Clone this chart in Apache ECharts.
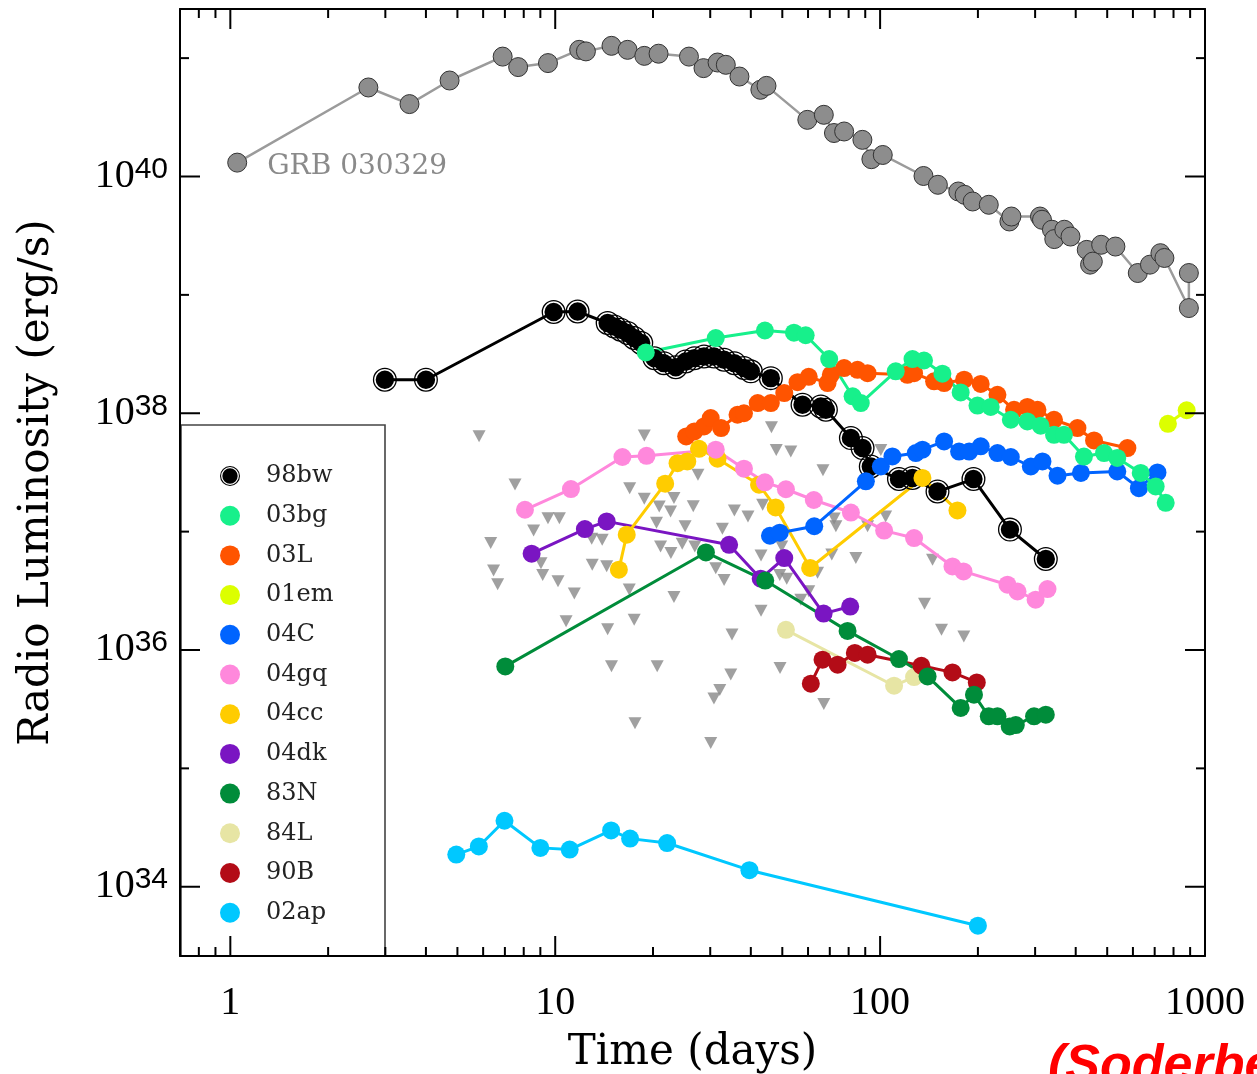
<!DOCTYPE html>
<html>
<head>
<meta charset="utf-8">
<script src="https://cdn.jsdelivr.net/npm/echarts@6/dist/echarts.min.js"></script>
<style>
html,body{margin:0;padding:0;background:#fff;}
#chart{width:1257px;height:1074px;}
</style>
</head>
<body>
<div id="chart"></div>
<script>
// ---------------- data (time in days, radio luminosity in erg/s) ----------------
const grb030329 = [[1.05,1.31e40],[2.66,5.65e40],[3.56,4.09e40],[4.73,6.47e40],[6.89,1.03e41],[7.69,8.4e40],[9.5,9.08e40],[11.85,1.175e41],[12.43,1.14e41],[14.9,1.27e41],[16.7,1.175e41],[18.8,1.045e41],[20.8,1.09e41],[25.8,1.03e41],[28.6,8.23e40],[31.6,9.18e40],[33.5,8.78e40],[36.9,6.99e40],[42.8,5.4e40],[44.7,5.83e40],[59.7,3.01e40],[67.1,3.32e40],[72.1,2.33e40],[77.5,2.4e40],[88.2,2.04e40],[94.0,1.4e40],[101.9,1.52e40],[136,1.01e40],[150.6,8.51e39],[174,7.47e39],[182,7.0e39],[192.7,6.15e39],[216,5.77e39],[250,4.17e39],[253.6,4.59e39],[310.5,4.59e39],[315,4.31e39],[338,3.55e39],[343.6,2.96e39],[369,3.55e39],[385.5,3.11e39],[432.5,2.4e39],[442.8,1.8e39],[451.6,1.91e39],[479,2.65e39],[530,2.56e39],[621,1.53e39],[677,1.8e39],[729,2.25e39],[750,2.05e39],[892,7.74e38],[892,1.53e39]];
const sn98bw = [[2.99,1.92e38],[4.0,1.92e38],[9.89,7.16e38],[11.72,7.24e38],[14.5,5.78e38],[15.2,5.41e38],[15.9,5.08e38],[16.7,4.76e38],[17.5,4.32e38],[18.4,3.92e38],[20.2,2.92e38],[21.6,2.65e38],[23.5,2.45e38],[25.2,2.74e38],[26.8,2.92e38],[28.7,3.02e38],[30.8,3.02e38],[33.1,2.83e38],[35.6,2.65e38],[38.1,2.41e38],[40.0,2.26e38],[46.1,1.98e38],[57.7,1.18e38],[65.7,1.14e38],[68.1,1.07e38],[81.3,6.17e37],[88.3,5.08e37],[93.6,3.55e37],[114.3,2.78e37],[125.8,2.84e37],[150.2,2.18e37],[193.8,2.78e37],[251,1.04e37],[323.6,5.87e36]];
const sn03bg = [[19.0,3.26e38],[31.2,4.32e38],[44.2,5.0e38],[54.3,4.79e38],[59.0,4.56e38],[69.7,2.87e38],[82.3,1.39e38],[87.2,1.22e38],[111.7,2.26e38],[125.8,2.87e38],[136.5,2.79e38],[155.5,2.16e38],[177,1.5e38],[199.4,1.16e38],[219,1.13e38],[252.5,8.81e37],[284,8.53e37],[312,7.84e37],[343,6.58e37],[368,6.58e37],[424,4.31e37],[489,4.61e37],[537,4.19e37],[634,3.13e37],[705,2.41e37],[757,1.75e37]];
const sn03L = [[25.3,6.37e37],[26.8,7.02e37],[28.7,7.74e37],[30.1,9.11e37],[32.4,7.5e37],[36.4,9.71e37],[38.1,1.0e38],[42.0,1.22e38],[46.1,1.22e38],[50.7,1.48e38],[55.7,1.83e38],[60.3,2.03e38],[68.9,1.8e38],[70.5,2.11e38],[77.5,2.41e38],[85.2,2.33e38],[91.5,2.18e38],[121.4,2.11e38],[127.2,2.18e38],[146.6,1.86e38],[157.4,1.8e38],[181.4,1.92e38],[204,1.77e38],[229.7,1.43e38],[258.4,1.07e38],[284,1.13e38],[305,1.07e38],[343,8.81e37],[405,7.5e37],[455.5,5.89e37],[577,5.08e37]];
const sn01em = [[769,8.15e37],[878,1.06e38]];
const sn04C = [[45.8,9.23e36],[49.1,9.79e36],[62.7,1.11e37],[90.4,2.66e37],[100.5,3.55e37],[109.1,4.32e37],[128.8,4.61e37],[135,4.92e37],[157.4,5.78e37],[175,4.75e37],[188,4.75e37],[204,5.25e37],[229.7,4.61e37],[252.5,4.27e37],[291,3.55e37],[316,3.92e37],[351.6,2.97e37],[415,3.13e37],[537,3.22e37],[626,2.33e37],[714,3.16e37]];
const sn04gq = [[8.07,1.53e37],[11.18,2.29e37],[16.1,4.27e37],[19.1,4.37e37],[31.2,4.92e37],[38.1,3.4e37],[44.2,2.61e37],[51.3,2.28e37],[62.5,1.85e37],[81.3,1.45e37],[102.9,1.02e37],[127.2,8.83e36],[167,5.08e36],[180.6,4.61e36],[246.6,3.56e36],[264.8,3.12e36],[301,2.66e36],[327.5,3.27e36]];
const sn04cc = [[15.7,4.77e36],[16.6,9.42e36],[21.8,2.54e37],[23.8,3.79e37],[25.5,3.92e37],[27.7,5.01e37],[31.6,4.13e37],[42.4,2.49e37],[47.7,1.6e37],[60.9,4.93e36],[135,2.84e37],[173,1.51e37]];
const sn04dk = [[8.46,6.51e36],[12.34,1.05e37],[14.4,1.22e37],[34.3,7.74e36],[42.9,4.0e36],[50.7,5.98e36],[67.0,2.03e36],[80.9,2.33e36]];
const sn83N = [[7.02,7.27e35],[29.1,6.67e36],[44.3,3.86e36],[79.4,1.45e36],[114.3,8.39e35],[140,5.98e35],[177,3.24e35],[194.5,4.19e35],[216,2.75e35],[229.7,2.75e35],[250.6,2.26e35],[261.6,2.32e35],[297.7,2.75e35],[323.6,2.84e35]];
const sn84L = [[51.3,1.48e36],[110.4,4.99e35],[127.2,5.91e35]];
const sn90B = [[61.2,5.19e35],[66.5,8.28e35],[74.0,7.51e35],[83.6,9.44e35],[91.5,9.13e35],[134,7.36e35],[167,6.47e35],[198.4,5.32e35]];
const sn02ap = [[4.96,1.87e34],[5.82,2.19e34],[6.98,3.61e34],[9.0,2.13e34],[11.08,2.06e34],[14.86,2.99e34],[17.0,2.55e34],[22.1,2.34e34],[39.6,1.38e34],[200,4.69e33]];
const upperLimits = [[5.83,6.4e37],[7.52,2.5e37],[6.33,8.0e36],[6.46,4.7e36],[6.65,3.6e36],[8.58,1.02e37],[9.04,5.4e36],[9.15,4.3e36],[9.5,1.3e37],[10.3,1.3e37],[10.2,3.8e36],[11.45,3.0e36],[12.95,8.7e36],[13.0,5.25e36],[14.4,5.1e36],[13.95,8.55e36],[16.95,2.33e37],[18.8,6.5e37],[18.8,1.9e37],[20.9,1.63e37],[23.2,1.92e37],[22.65,1.48e37],[26.6,1.64e37],[27.5,3.03e37],[20.5,1.19e37],[25.1,1.11e37],[21.1,7.5e36],[22.7,6.6e36],[24.6,7.9e36],[26.9,7.5e36],[32.7,1.06e37],[35.6,1.51e37],[39.2,1.34e37],[43.5,1.69e37],[46.3,7.6e37],[47.9,4.9e37],[53.1,4.76e37],[43.0,6.3e36],[49.1,4.3e36],[51.6,4.0e36],[31.2,4.9e36],[33.1,3.9e36],[16.9,3.25e36],[23.2,2.8e36],[66.7,3.3e37],[72.2,1.29e37],[73.1,1.11e37],[49.8,7.5e36],[57.0,2.66e36],[60.3,3.13e36],[71.0,6.4e36],[84.2,6.0e36],[43.0,2.15e36],[10.8,1.75e36],[14.5,1.5e36],[17.5,1.8e36],[35.0,1.35e36],[14.9,7.3e35],[20.6,7.3e35],[34.7,6.2e35],[49.2,7.05e35],[32.1,4.6e35],[30.8,3.9e35],[67.1,3.5e35],[17.6,2.4e35],[30.1,1.64e35],[137,2.46e36],[154.5,1.48e36],[181,1.3e36],[100.5,4.9e37],[104,1.34e37],[91.5,1.11e37],[145,5.8e36],[64.2,4.5e36]];

// ---------------- axes ----------------
const xMin = 0.7, xMax = 1000;
const yMin = 2.6e33, yMax = 2.6e41;
const xMajorTicks = [1, 10, 100, 1000];
const xTickLabels = ['1', '10', '100', '1000'];
const xMinorTicks = [0.8, 0.9, 2, 3, 4, 5, 6, 7, 8, 9, 20, 30, 40, 50, 60, 70, 80, 90, 200, 300, 400, 500, 600, 700, 800, 900];
const yMajorTicks = [1e34, 1e36, 1e38, 1e40];
const yTickExponents = ['34', '36', '38', '40'];
const yMinorTicks = [1e35, 1e37, 1e39, 1e41];

const legendNames = ['98bw','03bg','03L','01em','04C','04gq','04cc','04dk','83N','84L','90B','02ap'];
const colors = {
  '03bg':'#17f08b','03L':'#ff5400','01em':'#dcff00','04C':'#0064ff','04gq':'#ff88dc',
  '04cc':'#ffcc00','04dk':'#7a15c2','83N':'#008c3a','84L':'#e7e5a4','90B':'#b30c17','02ap':'#00c8ff'
};
const bullseye = 'path://M12 0A12 12 0 1 1 12 24A12 12 0 1 1 12 0ZM12 1.3A10.7 10.7 0 1 0 12 22.7A10.7 10.7 0 1 0 12 1.3ZM12 2.8A9.2 9.2 0 1 1 12 21.2A9.2 9.2 0 1 1 12 2.8Z';

function findIdx(arr, v) {
  for (let i = 0; i < arr.length; i++) {
    if (Math.abs(Math.log10(v) - Math.log10(arr[i])) < 1e-6) return i;
  }
  return -1;
}

function colored(name, data) {
  return {
    name: name, type: 'line', data: data,
    symbol: 'circle', symbolSize: 18,
    itemStyle: {color: colors[name]},
    lineStyle: {color: colors[name], width: 3},
    z: 3
  };
}

const TICK_REF_Y = 1e37, TICK_REF_X = 10;
function xTickRender(params, api) {
  const cs = params.coordSys;
  const x = api.coord([api.value(0), TICK_REF_Y])[0];
  const len = api.value(2);
  const st = {stroke: '#000', lineWidth: 2};
  return {type: 'group', children: [
    {type: 'line', shape: {x1: x, y1: cs.y + cs.height, x2: x, y2: cs.y + cs.height - len}, style: st},
    {type: 'line', shape: {x1: x, y1: cs.y, x2: x, y2: cs.y + len}, style: st}
  ]};
}
function yTickRender(params, api) {
  const cs = params.coordSys;
  const y = api.coord([TICK_REF_X, api.value(1)])[1];
  const len = api.value(2);
  const st = {stroke: '#000', lineWidth: 2};
  return {type: 'group', children: [
    {type: 'line', shape: {x1: cs.x, y1: y, x2: cs.x + len, y2: y}, style: st},
    {type: 'line', shape: {x1: cs.x + cs.width, y1: y, x2: cs.x + cs.width - len, y2: y}, style: st}
  ]};
}
const MAJOR_LEN = 20, MINOR_LEN = 9;
const xTickData = xMajorTicks.map(v => [v, TICK_REF_Y, MAJOR_LEN]).concat(xMinorTicks.map(v => [v, TICK_REF_Y, MINOR_LEN]));
const yTickData = yMajorTicks.map(v => [TICK_REF_X, v, MAJOR_LEN]).concat(yMinorTicks.map(v => [TICK_REF_X, v, MINOR_LEN]));

const grbData = grb030329.map((p, i) => i === 0 ? {
  value: p,
  label: {show: true, formatter: 'GRB 030329', position: 'right', distance: 20, offset: [0, 4],
          color: '#8a8a8a', fontFamily: 'DejaVu Serif', fontSize: 28}
} : p);

const axisLineStyle = {show: true, lineStyle: {color: '#000', width: 2}};
const chart = echarts.init(document.getElementById('chart'), null, {renderer: 'canvas'});
chart.setOption({
  animation: false,
  backgroundColor: '#fff',
  grid: {left: 180, top: 9, right: 52, bottom: 118, containLabel: false, outerBoundsMode: 'none'},
  xAxis: [{
    type: 'log', logBase: 10, min: xMin, max: xMax, position: 'bottom', z: 5,
    axisLine: axisLineStyle, axisTick: {show: false}, splitLine: {show: false}, minorTick: {show: false},
    axisLabel: {
      margin: 27, color: '#000', fontFamily: 'Liberation Serif', fontSize: 40,
      formatter: v => { const i = findIdx(xMajorTicks, v); return i >= 0 ? xTickLabels[i] : ''; }
    },
    name: 'Time (days)', nameLocation: 'middle', nameGap: 76,
    nameTextStyle: {fontFamily: 'DejaVu Serif', fontSize: 42, color: '#000'}
  }, {
    type: 'log', logBase: 10, min: xMin, max: xMax, position: 'top', z: 5,
    axisLine: axisLineStyle, axisTick: {show: false}, splitLine: {show: false}, axisLabel: {show: false}
  }],
  yAxis: [{
    type: 'log', logBase: 10, min: yMin, max: yMax, position: 'left', z: 5,
    axisLine: axisLineStyle, axisTick: {show: false}, splitLine: {show: false}, minorTick: {show: false},
    axisLabel: {
      margin: 12, color: '#000',
      formatter: v => { const i = findIdx(yMajorTicks, v); return i >= 0 ? '{b|10}{s|' + yTickExponents[i] + '}' : ''; },
      rich: {
        b: {fontFamily: 'Liberation Serif', fontSize: 40, lineHeight: 44, color: '#000'},
        s: {fontFamily: 'Liberation Sans', fontSize: 30, lineHeight: 30, color: '#000', verticalAlign: 'top'}
      }
    },
    name: 'Radio Luminosity (erg/s)', nameLocation: 'middle', nameGap: 122,
    nameTextStyle: {fontFamily: 'DejaVu Serif', fontSize: 42, color: '#000'}
  }, {
    type: 'log', logBase: 10, min: yMin, max: yMax, position: 'right', z: 5,
    axisLine: axisLineStyle, axisTick: {show: false}, splitLine: {show: false}, axisLabel: {show: false}
  }],
  legend: {
    orient: 'vertical', left: 220, top: 464, padding: 0, z: 7,
    itemWidth: 20, itemHeight: 20, itemGap: 15.7,
    textStyle: {fontFamily: 'DejaVu Serif', fontSize: 24, color: '#222', lineHeight: 20, padding: [0, 0, 0, 21]},
    data: legendNames.map(n => ({name: n, icon: n === '98bw' ? bullseye : 'circle'})),
    selectedMode: false
  },
  graphic: [{
    type: 'rect', z: 4, silent: true,
    shape: {x: 181, y: 425, width: 204, height: 531},
    style: {fill: '#fff', stroke: '#444', lineWidth: 1.6}
  }, {
    type: 'text', z: 8, silent: true, left: 1048, top: 1041,
    style: {text: '(Soderberg et al. 2006)', fill: '#ff0000', font: 'italic bold 52px "Liberation Sans"'}
  }],
  series: [
    {name: 'limits', type: 'scatter', data: upperLimits, symbol: 'triangle', symbolRotate: 180,
     symbolSize: [13, 12], itemStyle: {color: '#888'}, z: 2},
    {name: 'GRB 030329', type: 'line', data: grbData, symbol: 'circle', symbolSize: 19,
     itemStyle: {color: '#8d8d8d', borderColor: '#333', borderWidth: 1},
     lineStyle: {color: '#9b9b9b', width: 2.5}, z: 3},
    {name: '98bw', type: 'line', data: sn98bw, symbol: bullseye, symbolSize: 24,
     itemStyle: {color: '#000'}, lineStyle: {color: '#000', width: 3}, z: 3},
    colored('02ap', sn02ap),
    colored('84L', sn84L),
    colored('90B', sn90B),
    colored('04dk', sn04dk),
    colored('83N', sn83N),
    colored('04cc', sn04cc),
    colored('04gq', sn04gq),
    colored('04C', sn04C),
    colored('03L', sn03L),
    colored('03bg', sn03bg),
    colored('01em', sn01em),
    {name: 'xticks', type: 'custom', renderItem: xTickRender, data: xTickData, silent: true, z: 6,
     encode: {x: 0, y: 1}},
    {name: 'yticks', type: 'custom', renderItem: yTickRender, data: yTickData, silent: true, z: 6,
     encode: {x: 0, y: 1}}
  ]
});
</script>
</body>
</html>
